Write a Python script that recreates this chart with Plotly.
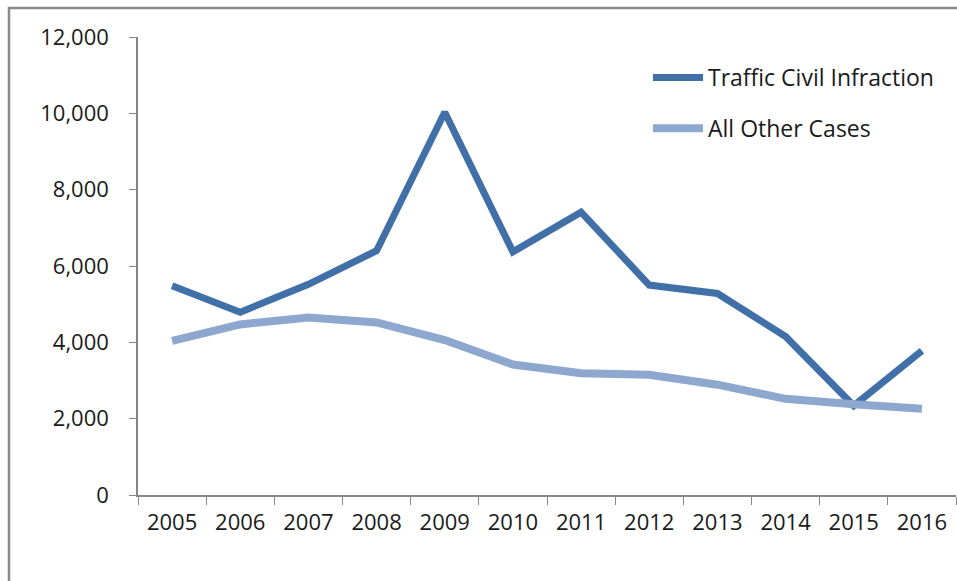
import plotly.graph_objects as go

years = ["2005", "2006", "2007", "2008", "2009", "2010", "2011", "2012", "2013", "2014", "2015", "2016"]
traffic = [5480, 4790, 5520, 6400, 10030, 6370, 7410, 5500, 5280, 4150, 2340, 3780]
other = [4040, 4470, 4650, 4520, 4060, 3420, 3190, 3150, 2890, 2520, 2380, 2260]
ytick_vals = [0, 2000, 4000, 6000, 8000, 10000, 12000]
ytick_text = ["0", "2,000", "4,000", "6,000", "8,000", "10,000", "12,000"]

FONT = "Open Sans"
fig = go.Figure()
fig.add_trace(go.Scatter(x=years, y=traffic, mode="lines", name="Traffic Civil Infraction",
                         legendgroup="a", line=dict(color="#4170A8", width=7)))
fig.add_trace(go.Scatter(x=years, y=other, mode="lines", name="All Other Cases",
                         legendgroup="b", line=dict(color="#8EA7CE", width=8)))

W, H = 957, 581
L, R, T, B = 138, 1, 37, 86
pw = W - L - R
ph = H - T - B

def px2paper_x(px):
    return (px - L) / pw

def px2paper_y(py):
    return (H - B - py) / ph

fig.update_layout(
    width=W, height=H,
    margin=dict(l=L, r=R, t=T, b=B, pad=0),
    paper_bgcolor="white", plot_bgcolor="white",
    font=dict(family=FONT, size=22, color="#1a1a1a"),
    showlegend=True,
    legend=dict(x=px2paper_x(648), y=px2paper_y(56), xanchor="left", yanchor="top",
                font=dict(family=FONT, size=23, color="#1a1a1a"),
                itemwidth=50, traceorder="grouped", tracegroupgap=18,
                bgcolor="rgba(0,0,0,0)"),
    xaxis=dict(type="category", range=[-0.5, 11.5], showgrid=False, showline=True,
               linecolor="#868686", linewidth=1.5, ticks="outside", tickson="boundaries",
               ticklen=8, tickcolor="#868686", tickwidth=1.2, ticklabelstandoff=7,
               tickfont=dict(family=FONT, size=22, color="#1a1a1a")),
    yaxis=dict(range=[0, 12000], tickvals=ytick_vals, ticktext=ytick_text, showgrid=False,
               zeroline=False, showline=True, linecolor="#868686", linewidth=1.5,
               ticks="outside", ticklen=7, tickcolor="#868686", tickwidth=1.2,
               ticklabelstandoff=16, tickfont=dict(family=FONT, size=22, color="#1a1a1a")),
    shapes=[dict(type="rect", xref="paper", yref="paper",
                 x0=px2paper_x(9), x1=px2paper_x(990), y0=px2paper_y(620), y1=px2paper_y(8),
                 line=dict(color="#8a8a8a", width=2.5), fillcolor="rgba(0,0,0,0)", layer="below")],
)

fig.write_html("out.html")
